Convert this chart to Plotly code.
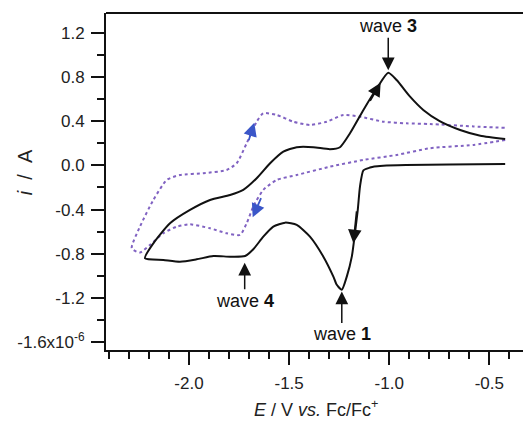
import plotly.graph_objects as go

# Solid CV (black): potential in V vs Fc/Fc+, current in units of 1e-6 A
solid_E = [-0.421, -0.70, -0.917, -1.03, -1.075, -1.096, -1.129, -1.146, -1.157, -1.171, -1.187,
           -1.212, -1.237, -1.262, -1.279, -1.329, -1.396, -1.462, -1.52, -1.579, -1.629, -1.679,
           -1.72, -1.795, -1.878, -1.962, -2.045, -2.128, -2.22,
           -2.178, -2.095, -1.995, -1.895, -1.795, -1.729, -1.662, -1.595, -1.529, -1.462, -1.379,
           -1.296, -1.246, -1.196, -1.129, -1.062, -1.005, -0.963, -0.896, -0.83, -0.748, -0.646,
           -0.545, -0.421]
solid_i = [0.012, 0.008, 0.003, -0.003, -0.01, -0.02, -0.045, -0.19, -0.40, -0.61, -0.826,
           -1.006, -1.125, -1.08, -1.006, -0.826, -0.645, -0.539, -0.518, -0.554, -0.645, -0.759,
           -0.82, -0.826, -0.82, -0.85, -0.871, -0.855, -0.84,
           -0.705, -0.524, -0.403, -0.313, -0.268, -0.222, -0.117, 0.019, 0.124, 0.164, 0.164,
           0.146, 0.164, 0.29, 0.501, 0.697, 0.838, 0.772, 0.621, 0.501, 0.40, 0.32,
           0.268, 0.239]

# Dotted CV (purple)
dot_E = [-0.421, -0.579, -0.796, -0.963, -1.129, -1.296, -1.462, -1.562, -1.629, -1.679, -1.712,
         -1.745, -1.812, -1.895, -1.995, -2.061, -2.128, -2.195, -2.245, -2.286,
         -2.245, -2.178, -2.111, -2.045, -1.928, -1.812, -1.762, -1.712, -1.662, -1.629, -1.562,
         -1.479, -1.396, -1.312, -1.229, -1.146, -1.029, -0.913, -0.796, -0.579, -0.421]
dot_i = [0.23, 0.185, 0.155, 0.094, 0.049, -0.012, -0.087, -0.132, -0.222, -0.373, -0.524,
         -0.629, -0.614, -0.569, -0.533, -0.554, -0.614, -0.72, -0.789, -0.75,
         -0.554, -0.313, -0.132, -0.087, -0.071, -0.042, 0.019, 0.20, 0.395, 0.471, 0.456,
         0.395, 0.365, 0.395, 0.456, 0.44, 0.395, 0.38, 0.374, 0.352, 0.339]

y_tickvals = [1.2, 0.8, 0.4, 0.0, -0.4, -0.8, -1.2, -1.6]
y_ticktext = ["1.2", "0.8", "0.4", "0.0", "-0.4", "-0.8", "-1.2", "-1.6x10<sup>-6</sup>"]
x_tickvals = [-2.0, -1.5, -1.0, -0.5]
x_ticktext = ["-2.0", "-1.5", "-1.0", "-0.5"]

# wave labels: text, arrow tip (E, i), pixel offset of the label from the tip
wave_labels = ["wave <b>3</b>", "wave <b>4</b>", "wave <b>1</b>"]
wave_E = [-1.005, -1.722, -1.237]
wave_i = [0.86, -0.88, -1.14]
wave_ay = [-44, 38, 43]

FONT = "Liberation Sans, Arial, sans-serif"

fig = go.Figure()
fig.add_trace(go.Scatter(x=dot_E, y=dot_i, mode="lines",
                         line=dict(color="#8062c2", width=2, dash="dot", shape="spline", smoothing=0.6),
                         hoverinfo="skip"))
fig.add_trace(go.Scatter(x=solid_E, y=solid_i, mode="lines",
                         line=dict(color="#111111", width=2, shape="spline", smoothing=0.6),
                         hoverinfo="skip"))

annotations = []
for lab, ex, iy, ay in zip(wave_labels, wave_E, wave_i, wave_ay):
    annotations.append(dict(x=ex, y=iy, xref="x", yref="y", text=lab, showarrow=True,
                            ax=0, ay=ay, arrowhead=2, arrowsize=1.7, arrowwidth=1.5,
                            arrowcolor="#111111", font=dict(family=FONT, size=18, color="#111111")))

# direction arrowheads on the curves: tip (E, i), tail (E, i), colour
dir_arrows = [
    (-1.043, 0.748, -1.10, 0.57, "#111111"),
    (-1.179, -0.704, -1.162, -0.403, "#111111"),
    (-1.674, 0.386, -1.704, 0.214, "#3a56c8"),
    (-1.682, -0.47, -1.637, -0.283, "#3a56c8"),
]
for x1, y1, x0, y0, c in dir_arrows:
    annotations.append(dict(x=x1, y=y1, ax=x0, ay=y0, xref="x", yref="y", axref="x", ayref="y",
                            text="", showarrow=True, arrowhead=2, arrowsize=1.5, arrowwidth=1.8,
                            arrowcolor=c))

# axis titles
annotations.append(dict(x=0.494, y=-0.175, xref="paper", yref="paper", showarrow=False,
                        xanchor="center", yanchor="middle",
                        text="<i>E</i> / V <i>vs.</i> Fc/Fc<sup>+</sup>",
                        font=dict(family=FONT, size=18, color="#222222")))
annotations.append(dict(x=-0.19, y=0.528, xref="paper", yref="paper", showarrow=False,
                        xanchor="center", yanchor="middle",
                        text="<i>i</i>\u00a0\u00a0/\u00a0\u00a0A", textangle=-90,
                        font=dict(family=FONT, size=20, color="#222222")))

# the page adds an 8 px body margin, so the figure is sized to fill the rest of the window
fig.update_layout(
    width=523, height=413,
    margin=dict(l=98, r=0, t=5, b=71, autoexpand=False),
    paper_bgcolor="white", plot_bgcolor="white",
    showlegend=False,
    annotations=annotations,
    shapes=[dict(type="line", xref="paper", yref="paper", x0=0, x1=1, y0=1, y1=1,
                 line=dict(color="#111111", width=2))],
)
fig.update_xaxes(range=[-2.4146, -0.292], showgrid=False, zeroline=False,
                 showline=True, linecolor="#111111", linewidth=2,
                 tickmode="array", tickvals=x_tickvals, ticktext=x_ticktext,
                 ticks="outside", ticklen=13, tickwidth=1.5, tickcolor="#111111",
                 minor=dict(dtick=0.1, tick0=-2.0, ticks="outside", ticklen=7, tickwidth=1.5, tickcolor="#111111"),
                 tickfont=dict(family=FONT, size=17, color="#222222"), ticklabelstandoff=4)
fig.update_yaxes(range=[-1.670, 1.378], showgrid=False, zeroline=False,
                 showline=True, linecolor="#111111", linewidth=2,
                 tickmode="array", tickvals=y_tickvals, ticktext=y_ticktext,
                 ticks="outside", ticklen=13, tickwidth=1.5, tickcolor="#111111",
                 minor=dict(dtick=0.2, tick0=0, ticks="outside", ticklen=7, tickwidth=1.5, tickcolor="#111111"),
                 tickfont=dict(family=FONT, size=17, color="#222222"), ticklabelstandoff=3)

fig.write_html("out.html")
